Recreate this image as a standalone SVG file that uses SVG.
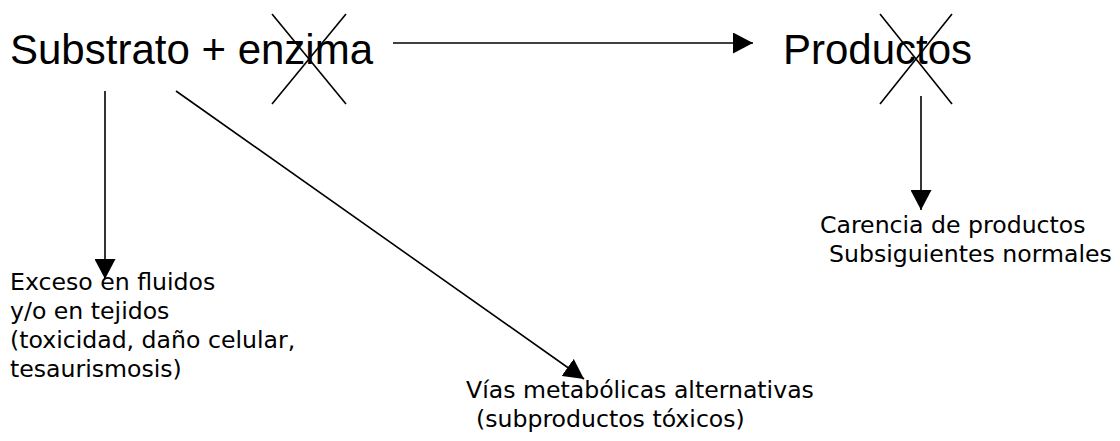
<svg xmlns="http://www.w3.org/2000/svg" width="1120" height="441" viewBox="0 0 1120 441">
  <style>
    .big { font-family: "Liberation Sans", Arial, sans-serif; font-size: 42px; fill: #000; }
    .small { font-family: "DejaVu Sans", Verdana, sans-serif; font-size: 23.6px; fill: #000; }
    .edge { stroke: #000; stroke-width: 1.6; fill: none; }
    .cross { stroke: #000; stroke-width: 1.6; }
  </style>
  <defs>
    <marker id="head" markerUnits="userSpaceOnUse" markerWidth="20" markerHeight="21" refX="20" refY="10.5" orient="auto">
      <path d="M0,0 L20,10.5 L0,21 z" fill="#000"/>
    </marker>
  </defs>
  <rect width="1120" height="441" fill="#fff"/>

  <g id="sustrato">
    <text class="big" x="10" y="64">Substrato + enzima</text>
    <line class="cross" x1="272" y1="14" x2="346" y2="104"/>
    <line class="cross" x1="346" y1="14" x2="272" y2="104"/>
  </g>

  <g id="productos">
    <text class="big" x="783" y="64">Productos</text>
    <line class="cross" x1="880" y1="14" x2="952" y2="104"/>
    <line class="cross" x1="952" y1="14" x2="880" y2="104"/>
  </g>

  <g id="exceso">
    <text class="small" x="10" y="290">Exceso en fluidos</text>
    <text class="small" x="10" y="319">y/o en tejidos</text>
    <text class="small" x="10" y="348">(toxicidad, daño celular,</text>
    <text class="small" x="10" y="377">tesaurismosis)</text>
  </g>

  <g id="vias">
    <text class="small" x="466" y="398">Vías metabólicas alternativas</text>
    <text class="small" x="476" y="427">(subproductos tóxicos)</text>
  </g>

  <g id="carencia">
    <text class="small" x="820" y="233">Carencia de productos</text>
    <text class="small" x="829" y="262">Subsiguientes normales</text>
  </g>

  <g id="connectors">
    <line class="edge" x1="393" y1="43" x2="753" y2="43" marker-end="url(#head)"/>
    <line class="edge" x1="105" y1="91" x2="105" y2="279" marker-end="url(#head)"/>
    <line class="edge" x1="176" y1="91" x2="584" y2="379" marker-end="url(#head)"/>
    <line class="edge" x1="921" y1="96" x2="921" y2="210" marker-end="url(#head)"/>
  </g>
</svg>
